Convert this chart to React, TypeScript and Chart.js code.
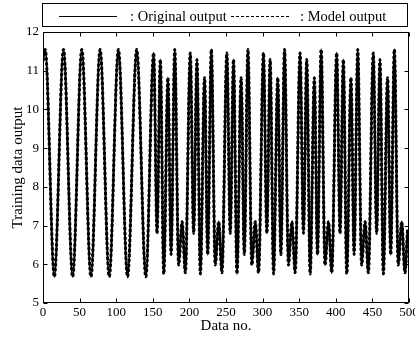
import React, { useEffect, useRef } from 'react';
import { Chart, registerables } from 'chart.js';

Chart.register(...registerables);

// Data no. of the turning points
const dataNo = [
  0, 3, 15.5, 28, 40.5, 53, 65.5, 78, 90.5, 103, 115.5, 128, 140.5,
  151.2, 155.8, 160.3, 165, 170.7, 175, 180, 185.3, 190, 194.5,
  201.2, 205.8, 210.3, 215, 220.7, 225, 230, 235.3, 240, 244.5,
  251.2, 255.8, 260.3, 265, 270.7, 275, 280, 285.3, 290, 294.5,
  301.2, 305.8, 310.3, 315, 320.7, 325, 330, 335.3, 340, 344.5,
  351.2, 355.8, 360.3, 365, 370.7, 375, 380, 385.3, 390, 394.5,
  401.2, 405.8, 410.3, 415, 420.7, 425, 430, 435.3, 440, 444.5,
  451.2, 455.8, 460.3, 465, 470.7, 475, 480, 485.3, 490, 494.5,
  498,
];

const originalOutput = [
  11.25, 11.55, 5.68, 11.55, 5.68, 11.55, 5.68, 11.55, 5.68, 11.55, 5.68, 11.55, 5.68,
  11.46, 6.8, 11.29, 5.75, 10.82, 6.25, 11.55, 5.98, 7.1, 5.78,
  11.46, 6.8, 11.29, 5.75, 10.82, 6.25, 11.55, 5.98, 7.1, 5.78,
  11.46, 6.8, 11.29, 5.75, 10.82, 6.25, 11.55, 5.98, 7.1, 5.78,
  11.46, 6.8, 11.29, 5.75, 10.82, 6.25, 11.55, 5.98, 7.1, 5.78,
  11.46, 6.8, 11.29, 5.75, 10.82, 6.25, 11.55, 5.98, 7.1, 5.78,
  11.46, 6.8, 11.29, 5.75, 10.82, 6.25, 11.55, 5.98, 7.1, 5.78,
  11.46, 6.8, 11.29, 5.75, 10.82, 6.25, 11.55, 5.98, 7.1, 5.78,
  6.9,
];

const modelOutput = [
  11.25, 11.55, 5.68, 11.55, 5.68, 11.55, 5.68, 11.55, 5.68, 11.55, 5.68, 11.55, 5.68,
  11.46, 6.8, 11.29, 5.75, 10.82, 6.25, 11.55, 5.98, 7.1, 5.78,
  11.46, 6.8, 11.29, 5.75, 10.82, 6.25, 11.55, 5.98, 7.1, 5.78,
  11.46, 6.8, 11.29, 5.75, 10.82, 6.25, 11.55, 5.98, 7.1, 5.78,
  11.46, 6.8, 11.29, 5.75, 10.82, 6.25, 11.55, 5.98, 7.1, 5.78,
  11.46, 6.8, 11.29, 5.75, 10.82, 6.25, 11.55, 5.98, 7.1, 5.78,
  11.46, 6.8, 11.29, 5.75, 10.82, 6.25, 11.55, 5.98, 7.1, 5.78,
  11.46, 6.8, 11.29, 5.75, 10.82, 6.25, 11.55, 5.98, 7.1, 5.78,
  6.9,
];

const xTickValues = [0, 50, 100, 150, 200, 250, 300, 350, 400, 450, 500];
const yTickValues = [5, 6, 7, 8, 9, 10, 11, 12];
const legendLabels = [': Original output', ': Model output'];
const xTitle = 'Data no.';
const yTitle = 'Training data output';

const FONT = '"Liberation Serif", "Times New Roman", Times, serif';

export default function App() {
  const ref = useRef<HTMLCanvasElement>(null);

  useEffect(() => {
    const canvas = ref.current;
    if (!canvas) return;

    const framePlugin = {
      id: 'framePlugin',
      afterDraw(chart: any) {
        const { ctx, chartArea: a, scales } = chart;
        const xs = scales.x;
        const ys = scales.y;
        ctx.save();
        ctx.strokeStyle = '#000';
        ctx.lineWidth = 1;
        const L = Math.round(a.left) + 0.5;
        const R = Math.round(a.right) - 0.5;
        const T = Math.round(a.top) + 0.5;
        const B = Math.round(a.bottom) - 0.5;
        ctx.strokeRect(L, T, R - L, B - T);
        ctx.beginPath();
        xTickValues.forEach((v) => {
          const px = Math.round(xs.getPixelForValue(v)) + 0.5;
          ctx.moveTo(px, B);
          ctx.lineTo(px, B - 4);
          ctx.moveTo(px, T);
          ctx.lineTo(px, T + 4);
        });
        yTickValues.forEach((v) => {
          const py = Math.round(ys.getPixelForValue(v)) + 0.5;
          ctx.moveTo(L, py);
          ctx.lineTo(L + 4, py);
          ctx.moveTo(R, py);
          ctx.lineTo(R - 4, py);
        });
        ctx.stroke();

        // legend box
        const lL = L - 1;
        const lR = R - 1;
        ctx.strokeRect(lL, 3.5, lR - lL, 23);
        ctx.beginPath();
        ctx.moveTo(59, 16.5);
        ctx.lineTo(117, 16.5);
        ctx.stroke();
        ctx.beginPath();
        ctx.setLineDash([3, 2]);
        ctx.moveTo(231, 16.5);
        ctx.lineTo(291, 16.5);
        ctx.stroke();
        ctx.setLineDash([]);
        ctx.fillStyle = '#000';
        ctx.font = `14.5px ${FONT}`;
        ctx.textBaseline = 'alphabetic';
        ctx.textAlign = 'left';
        ctx.fillText(legendLabels[0], 130, 20.5);
        ctx.fillText(legendLabels[1], 300, 20.5);
        ctx.restore();
      },
    };

    const chart = new Chart(canvas, {
      type: 'line',
      data: {
        datasets: [
          {
            label: 'Original output',
            data: dataNo.map((x, i) => ({ x, y: originalOutput[i] })),
            borderColor: '#000',
            borderWidth: 2.2,
            pointRadius: 0,
            fill: false,
            cubicInterpolationMode: 'monotone',
          },
          {
            label: 'Model output',
            data: dataNo.map((x, i) => ({ x, y: modelOutput[i] })),
            borderColor: '#000',
            borderWidth: 3,
            borderDash: [3, 2],
            pointRadius: 0,
            fill: false,
            cubicInterpolationMode: 'monotone',
          },
        ],
      },
      options: {
        responsive: false,
        animation: false,
        events: [],
        layout: { padding: { left: 9, top: 32, right: 6, bottom: 7 } },
        plugins: {
          legend: { display: false },
          tooltip: { enabled: false },
        },
        scales: {
          x: {
            type: 'linear',
            min: 0,
            max: 500,
            grid: { display: false, drawTicks: false },
            border: { display: false },
            afterBuildTicks: (s: any) => {
              s.ticks = xTickValues.map((v) => ({ value: v }));
            },
            afterFit: (s: any) => {
              s.height = 32;
              s.paddingLeft = 0;
              s.paddingRight = 0;
            },
            ticks: {
              color: '#000',
              font: { family: FONT, size: 13 },
              padding: 2,
              maxRotation: 0,
              autoSkip: false,
            },
            title: {
              display: true,
              text: xTitle,
              color: '#000',
              padding: { top: 0, bottom: 0 },
              font: { family: FONT, size: 15 },
            },
          },
          y: {
            type: 'linear',
            min: 5,
            max: 12,
            grid: { display: false, drawTicks: false },
            border: { display: false },
            afterBuildTicks: (s: any) => {
              s.ticks = yTickValues.map((v) => ({ value: v }));
            },
            afterFit: (s: any) => {
              s.width = 34;
              s.paddingTop = 0;
              s.paddingBottom = 0;
            },
            ticks: {
              color: '#000',
              font: { family: FONT, size: 13 },
              padding: 4,
              autoSkip: false,
            },
            title: {
              display: true,
              text: yTitle,
              color: '#000',
              padding: { top: 0, bottom: 0 },
              font: { family: FONT, size: 15 },
            },
          },
        },
      },
      plugins: [framePlugin],
    } as any);

    return () => chart.destroy();
  }, []);

  return (
    <canvas
      ref={ref}
      width={415}
      height={342}
      style={{ position: 'absolute', left: 0, top: 0, width: 415, height: 342, display: 'block' }}
    />
  );
}
